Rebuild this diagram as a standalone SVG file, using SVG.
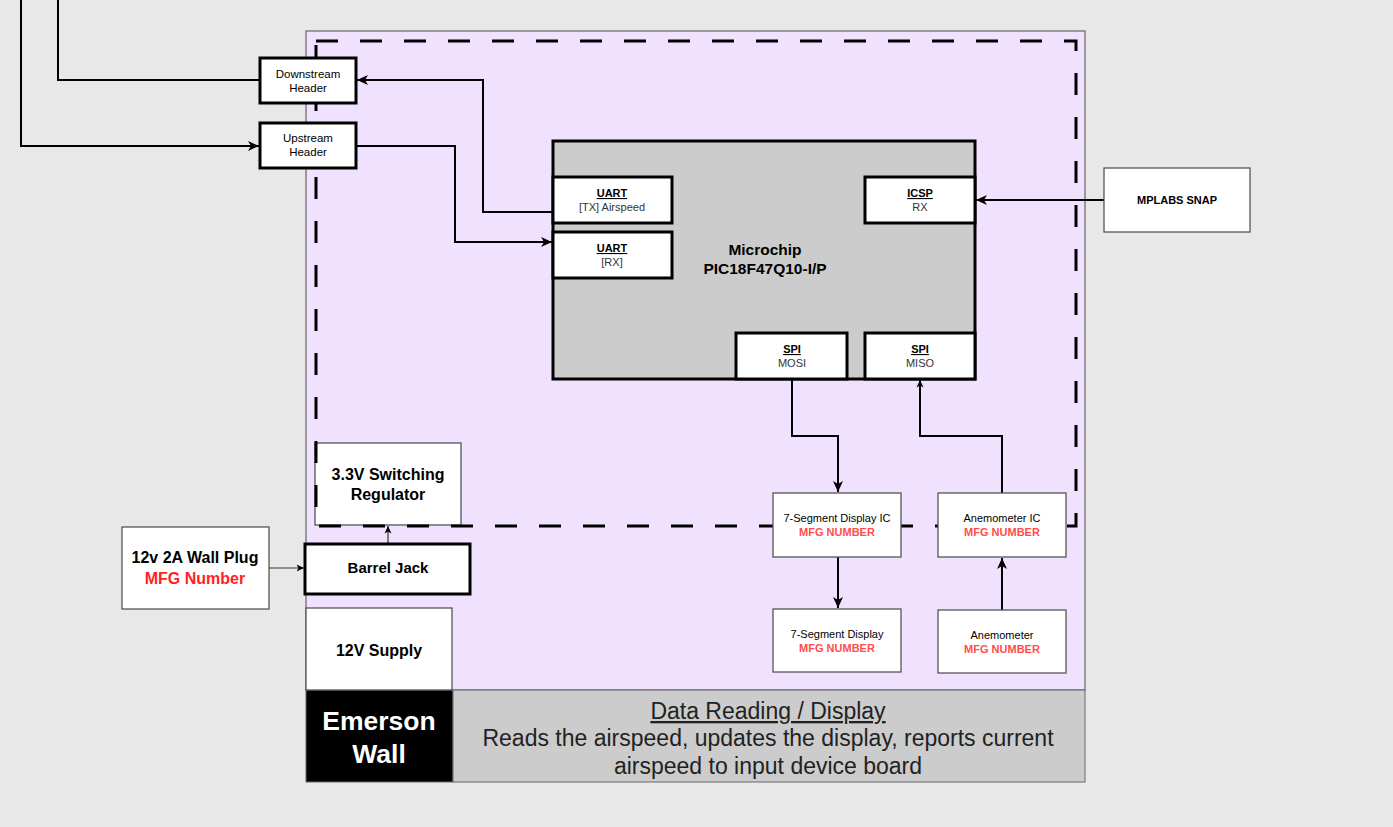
<svg xmlns="http://www.w3.org/2000/svg" width="1393" height="827" viewBox="0 0 1393 827">
<style>
text{font-family:"Liberation Sans",Arial,sans-serif;text-anchor:middle;fill:#000}
.thick{fill:#fff;stroke:#000;stroke-width:3}
.thin{fill:#fff;stroke:#555;stroke-width:1.3}
.wire{fill:none;stroke:#000;stroke-width:2}
.wthin{fill:none;stroke:#333;stroke-width:1.2}
.s11{font-size:11px}
.hdr{font-size:11.5px}
.sub{font-size:11px;fill:#333}
.b{font-weight:bold}
.u{text-decoration:underline}
.mfg{font-size:11px;font-weight:bold;fill:#ff4d4d}
.big{font-size:16px;font-weight:bold}
.desc{font-size:23px;fill:#222}
</style>
<defs>
<marker id="ah" markerUnits="userSpaceOnUse" markerWidth="12" markerHeight="12" viewBox="0 0 12 12" refX="11" refY="6" orient="auto">
<path d="M0,1 L11,6 L0,11 L3,6 Z" fill="#000"/>
</marker>
<marker id="ahs" markerUnits="userSpaceOnUse" markerWidth="8" markerHeight="8" viewBox="0 0 8 8" refX="7.5" refY="4" orient="auto">
<path d="M0,0.5 L7.5,4 L0,7.5 L2,4 Z" fill="#000"/>
</marker>
</defs>
<rect width="1393" height="827" fill="#e8e8e8"/>
<g id="panel">
<rect x="306" y="31" width="779" height="659" fill="#f0e1ff" stroke="#666" stroke-width="1.2"/>
</g>
<g id="bottom-bar">
<rect x="306" y="690" width="147" height="92" fill="#000" stroke="#666" stroke-width="1"/>
<text x="379" y="730" style="font-size:26.5px;font-weight:bold;fill:#fff">Emerson</text>
<text x="379" y="763" style="font-size:26.5px;font-weight:bold;fill:#fff">Wall</text>
<rect x="453" y="690" width="632" height="92" fill="#cccccc" stroke="#666" stroke-width="1"/>
<text x="768" y="719" class="desc u">Data Reading / Display</text>
<text x="768" y="746" class="desc">Reads the airspeed, updates the display, reports current</text>
<text x="768" y="774" class="desc">airspeed to input device board</text>
</g>
<g id="supply-12v">
<rect x="306" y="608" width="146" height="82" class="thin"/>
<text x="379" y="656" class="big">12V Supply</text>
</g>
<g id="regulator">
<rect x="315" y="443" width="146" height="82" class="thin"/>
<text x="388" y="480" class="big">3.3V Switching</text>
<text x="388" y="500" class="big">Regulator</text>
</g>
<g id="dashed-boundary">
<rect x="316" y="41" width="760" height="485" fill="none" stroke="#000" stroke-width="3" stroke-dasharray="22 22"/>
</g>
<g id="connectors">
<path class="wire" d="M58,0 V80 H260"/>
<path class="wire" d="M21,0 V146 H259" marker-end="url(#ah)"/>
<path class="wire" d="M553,212 H483 V80 H357" marker-end="url(#ah)"/>
<path class="wire" d="M356,146 H455 V242 H552" marker-end="url(#ah)"/>
<path class="wire" d="M1104,200 H976" marker-end="url(#ah)"/>
<path class="wire" d="M792,379 V436 H838 V492" marker-end="url(#ah)"/>
<path class="wire" d="M1002,493 V436 H920 V380" marker-end="url(#ahs)"/>
<path class="wire" d="M838,557 V608" marker-end="url(#ah)"/>
<path class="wire" d="M1002,610 V558" marker-end="url(#ah)"/>
<path class="wthin" d="M269,568 H304" marker-end="url(#ahs)"/>
<path class="wthin" d="M388,544 V526" marker-end="url(#ahs)"/>
</g>
<g id="downstream-header">
<rect x="260" y="58" width="96" height="45" class="thick"/>
<text x="308" y="78" class="hdr">Downstream</text>
<text x="308" y="92" class="hdr">Header</text>
</g>
<g id="upstream-header">
<rect x="260" y="123" width="96" height="45" class="thick"/>
<text x="308" y="142" class="hdr">Upstream</text>
<text x="308" y="156" class="hdr">Header</text>
</g>
<g id="microchip">
<rect x="553" y="141" width="422" height="238" fill="#cccccc" stroke="#000" stroke-width="3"/>
<text x="765" y="255" style="font-size:15.5px;font-weight:bold">Microchip</text>
<text x="765" y="274" style="font-size:15.5px;font-weight:bold">PIC18F47Q10-I/P</text>
</g>
<g id="uart-tx">
<rect x="553" y="177" width="119" height="46" class="thick"/>
<text x="612" y="197" class="s11 b u">UART</text>
<text x="612" y="211" class="sub">[TX] Airspeed</text>
</g>
<g id="uart-rx">
<rect x="553" y="232" width="119" height="46" class="thick"/>
<text x="612" y="252" class="s11 b u">UART</text>
<text x="612" y="266" class="sub">[RX]</text>
</g>
<g id="icsp">
<rect x="865" y="177" width="110" height="46" class="thick"/>
<text x="920" y="197" class="s11 b u">ICSP</text>
<text x="920" y="211" class="sub">RX</text>
</g>
<g id="spi-mosi">
<rect x="736" y="333" width="111" height="46" class="thick"/>
<text x="792" y="353" class="s11 b u">SPI</text>
<text x="792" y="367" class="sub">MOSI</text>
</g>
<g id="spi-miso">
<rect x="865" y="333" width="110" height="46" class="thick"/>
<text x="920" y="353" class="s11 b u">SPI</text>
<text x="920" y="367" class="sub">MISO</text>
</g>
<g id="mplabs-snap">
<rect x="1104" y="168" width="146" height="64" class="thin"/>
<text x="1177" y="204" class="s11 b">MPLABS SNAP</text>
</g>
<g id="seg-display-ic">
<rect x="773" y="493" width="128" height="64" class="thin"/>
<text x="837" y="522" class="s11">7-Segment Display IC</text>
<text x="837" y="536" class="mfg">MFG NUMBER</text>
</g>
<g id="anemometer-ic">
<rect x="938" y="493" width="128" height="64" class="thin"/>
<text x="1002" y="522" class="s11">Anemometer IC</text>
<text x="1002" y="536" class="mfg">MFG NUMBER</text>
</g>
<g id="seg-display">
<rect x="773" y="609" width="128" height="63" class="thin"/>
<text x="837" y="638" class="s11">7-Segment Display</text>
<text x="837" y="652" class="mfg">MFG NUMBER</text>
</g>
<g id="anemometer">
<rect x="938" y="610" width="128" height="63" class="thin"/>
<text x="1002" y="639" class="s11">Anemometer</text>
<text x="1002" y="653" class="mfg">MFG NUMBER</text>
</g>
<g id="barrel-jack">
<rect x="305" y="544" width="165" height="50" class="thick"/>
<text x="388" y="573" style="font-size:15px;font-weight:bold">Barrel Jack</text>
</g>
<g id="wall-plug">
<rect x="122" y="527" width="147" height="82" class="thin"/>
<text x="195" y="563" class="big">12v 2A Wall Plug</text>
<text x="195" y="584" class="big" style="fill:#ff2222">MFG Number</text>
</g>
</svg>
